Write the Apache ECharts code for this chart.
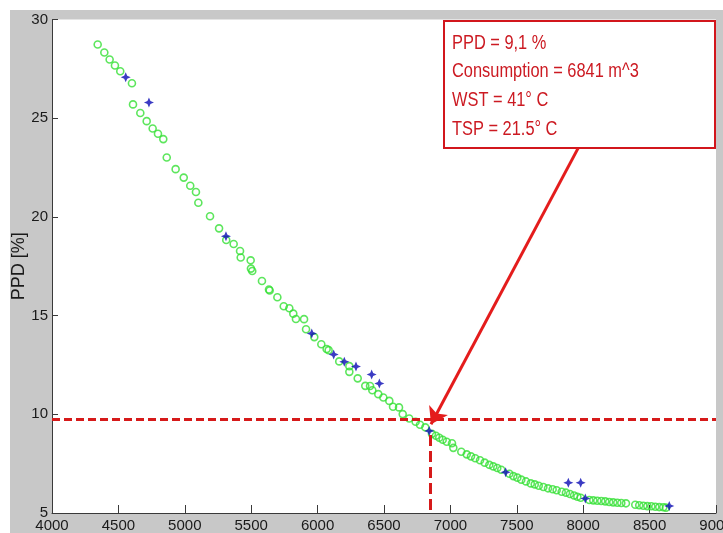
<!DOCTYPE html>
<html>
<head>
<meta charset="utf-8">
<script src="https://cdn.jsdelivr.net/npm/echarts@6/dist/echarts.min.js"></script>
<style>html,body{margin:0;padding:0;background:#fff;overflow:hidden}#c{width:723px;height:533px}</style>
</head>
<body>
<div id="c"></div>
<script>
// Green circles: consumption [m^3], PPD [%]
const greenX = [4344,4394,4434,4474,4514,4602,4610,4665,4713,4758,4798,4838,4864,4931,4992,5041,5084,5102,5190,5258,5312,5368,5416,5421,5496,5498,5508,5581,5634,5639,5697,5745,5787,5817,5837,5898,5913,5975,6028,6068,6083,6163,6239,6239,6302,6359,6395,6412,6457,6495,6540,6568,6613,6641,6690,6738,6771,6811,6861,6891,6916,6942,6972,7012,7022,7082,7123,7155,7187,7223,7258,7293,7323,7353,7383,7444,7474,7504,7534,7569,7605,7635,7665,7700,7735,7770,7800,7838,7870,7900,7931,7956,7981,8046,8076,8106,8136,8166,8196,8226,8257,8287,8322,8392,8422,8453,8483,8513,8543,8573,8603,8623];
const greenY = [28.73,28.33,27.97,27.67,27.38,26.77,25.70,25.26,24.85,24.48,24.21,23.94,23.01,22.42,21.99,21.58,21.26,20.72,20.03,19.42,18.83,18.63,18.27,17.94,17.80,17.38,17.26,16.75,16.32,16.27,15.93,15.47,15.37,15.10,14.83,14.82,14.31,13.91,13.55,13.31,13.25,12.68,12.44,12.15,11.82,11.44,11.43,11.22,11.02,10.85,10.68,10.38,10.35,10.01,9.79,9.62,9.47,9.34,9.01,8.91,8.81,8.71,8.61,8.53,8.30,8.10,7.97,7.87,7.77,7.67,7.55,7.44,7.36,7.28,7.19,6.99,6.87,6.79,6.69,6.60,6.50,6.45,6.38,6.32,6.25,6.20,6.15,6.08,6.03,5.96,5.89,5.82,5.77,5.66,5.64,5.62,5.61,5.59,5.56,5.54,5.52,5.51,5.49,5.42,5.39,5.37,5.35,5.34,5.32,5.30,5.29,5.27];
// Blue markers
const blueX = [4555,4730,5310,5956,6121,6201,6289,6407,6465,6841,7416,7888,7981,8016,8648];
const blueY = [27.08,25.80,19.02,14.09,13.03,12.66,12.42,12.02,11.56,9.15,7.06,6.53,6.53,5.74,5.35];
// Selected point / guides
const selX = 6850;
const selY = 9.75;
const arrowFrom = [7961, 23.47];
const arrowTo = [6854, 9.5];
const vLineTop = 8.95;
// Axes
const xMin = 4000, xMax = 9000, xStep = 500;
const yMin = 5, yMax = 30, yStep = 5;
const yName = 'PPD [%]';
const noteLines = ['PPD = 9,1 %', 'Consumption = 6841 m^3', 'WST = 41° C', 'TSP = 21.5° C'];

const green = greenX.map((x, i) => [x, greenY[i]]);
const blue = blueX.map((x, i) => [x, blueY[i]]);
const RED = '#d61a1a';
const star = 'path://M0,-10 L3,-3 L10,0 L3,3 L0,10 L-3,3 L-10,0 L-3,-3 Z';

const chart = echarts.init(document.getElementById('c'), null, {renderer: 'canvas'});
const noteTop = 20, noteLeft = 443;
chart.setOption({
  animation: false,
  backgroundColor: '#c8c8c8',
  grid: {left: 52, top: 19.5, right: 7, bottom: 20, show: true, backgroundColor: '#ffffff', borderWidth: 0, containLabel: false, outerBoundsMode: 'none'},
  xAxis: {
    type: 'value', min: xMin, max: xMax, interval: xStep,
    axisLine: {show: true, onZero: false, lineStyle: {color: '#3a3a3a', width: 1}},
    axisTick: {show: true, inside: true, length: 8, lineStyle: {color: '#3a3a3a'}},
    axisLabel: {color: '#1a1a1a', fontFamily: 'Liberation Sans', fontSize: 15, margin: 5, showMaxLabel: true, showMinLabel: true, hideOverlap: false, formatter: v => String(v)},
    splitLine: {show: false}
  },
  yAxis: {
    type: 'value', min: yMin, max: yMax, interval: yStep,
    name: yName, nameLocation: 'middle', nameGap: 24, nameMoveOverlap: false,
    nameTextStyle: {color: '#1a1a1a', fontFamily: 'Liberation Sans', fontSize: 18},
    axisLine: {show: true, onZero: false, lineStyle: {color: '#3a3a3a', width: 1}},
    axisTick: {show: true, inside: true, length: 6, lineStyle: {color: '#3a3a3a'}},
    axisLabel: {color: '#1a1a1a', fontFamily: 'Liberation Sans', fontSize: 15, margin: 4, formatter: v => String(v)},
    splitLine: {show: false}
  },
  series: [
    {
      type: 'scatter', data: green, symbol: 'circle', symbolSize: 7,
      itemStyle: {color: 'rgba(0,0,0,0)', borderColor: '#34e034', borderWidth: 1.6},
      z: 3,
      markLine: {
        silent: true, symbol: ['none', 'none'], label: {show: false},
        lineStyle: {color: RED, width: 3, type: [8, 4]},
        data: [
          [{coord: [xMin, selY]}, {coord: [xMax, selY]}],
          [{coord: [selX, vLineTop], lineStyle: {type: [11, 5], width: 3}}, {coord: [selX, yMin]}]
        ]
      }
    },
    {
      type: 'scatter', data: blue, symbol: star, symbolSize: 10,
      itemStyle: {color: '#0a0ab4'}, z: 4,
      markLine: {
        silent: true, symbol: ['none', 'arrow'], symbolSize: 16, label: {show: false},
        lineStyle: {color: '#e41c1c', width: 3, type: 'solid'},
        data: [[{coord: arrowFrom}, {coord: arrowTo}]]
      }
    }
  ],
  graphic: [
    {type: 'rect', left: 0, top: 0, shape: {width: 723, height: 10}, style: {fill: '#ffffff'}, z: 100, silent: true},
    {type: 'rect', left: 0, top: 0, shape: {width: 10, height: 533}, style: {fill: '#ffffff'}, z: 100, silent: true},
    {
      type: 'group', left: noteLeft, top: noteTop, z: 50,
      children: [
        {type: 'rect', shape: {x: 0, y: 0, width: 271, height: 127}, style: {fill: '#ffffff', stroke: '#d2161c', lineWidth: 2}},
      ].concat(noteLines.map((t, i) => ({
        type: 'text', x: 8, y: 22 + i * 28.7, scaleX: 0.82,
        style: {text: t, fill: '#cc1a22', font: '20px "Liberation Sans"', verticalAlign: 'middle', align: 'left'}
      })))
    }
  ]
});
</script>
</body>
</html>
